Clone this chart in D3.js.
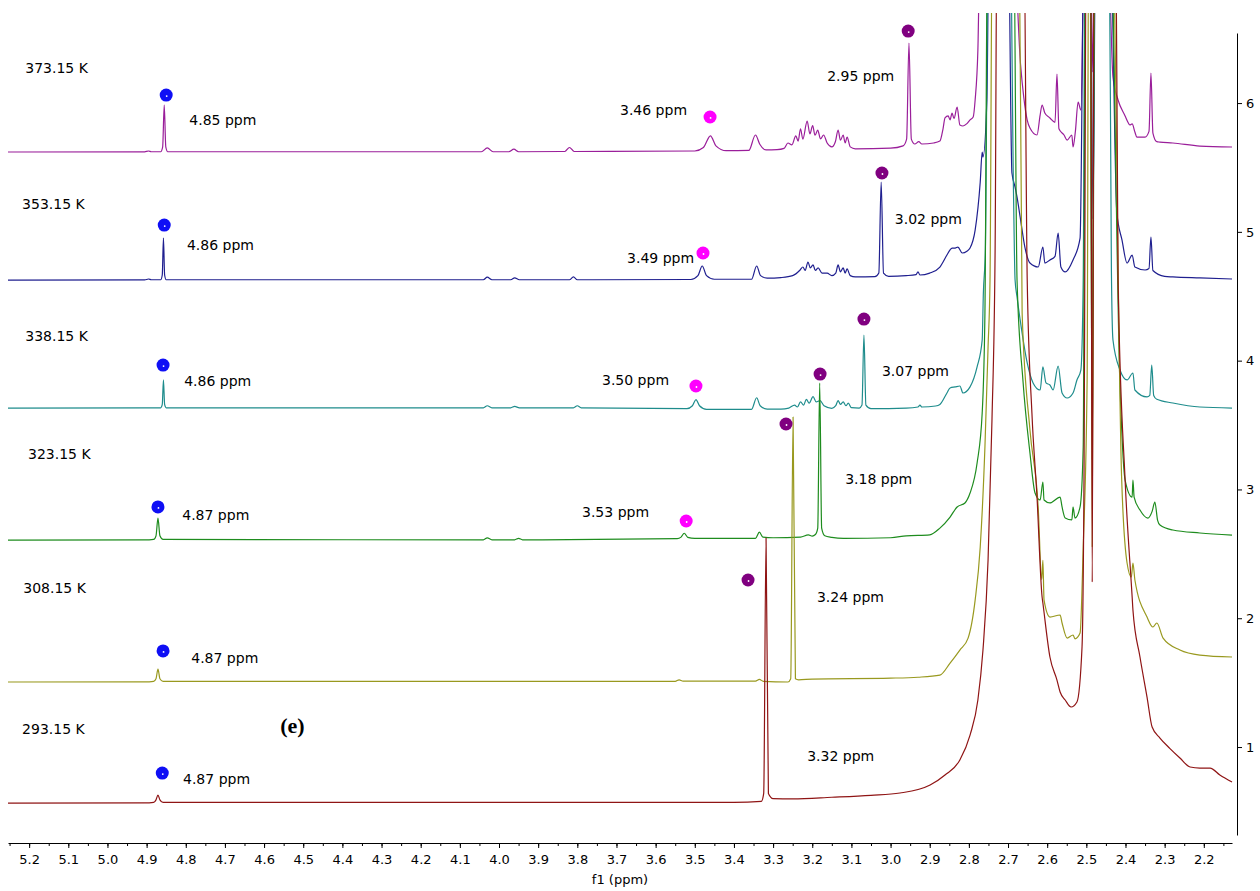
<!DOCTYPE html>
<html>
<head>
<meta charset="utf-8">
<script src="https://cdn.jsdelivr.net/npm/d3@7"></script>
<style>
  body { margin: 0; background: #fff; }
  svg { display: block; font-family: 'DejaVu Sans', Verdana, sans-serif; }
  .axis path, .axis line { stroke: #000; }
  .axis text { font-size: 13px; fill: #000; font-family: 'DejaVu Sans', Verdana, sans-serif; }
  .lbl { font-size: 14px; fill: #000; }
</style>
</head>
<body>
<div id="chart"></div>
<script>
// spectra as [ppm, intensity] (intensity in right-axis units)
var spec373 = [
  [5.254,5.620],[4.905,5.621],[4.895,5.628],[4.888,5.622],[4.864,5.622],[4.859,5.660],[4.855,5.985],[4.851,5.660],[4.846,5.622],
  [4.045,5.622],[4.030,5.652],[4.015,5.622],[3.975,5.622],[3.962,5.642],[3.950,5.622],[3.832,5.624],[3.820,5.655],[3.808,5.624],
  [3.500,5.628],[3.478,5.655],[3.460,5.745],[3.446,5.668],[3.420,5.630],
  [3.362,5.632],[3.345,5.752],[3.334,5.680],[3.318,5.636],
  [3.290,5.638],[3.272,5.648],[3.262,5.690],[3.252,5.676],[3.242,5.745],[3.236,5.705],[3.230,5.800],[3.224,5.720],[3.213,5.860],[3.206,5.760],[3.199,5.825],[3.193,5.750],[3.186,5.790],[3.179,5.722],[3.171,5.752],[3.162,5.690],[3.150,5.660],[3.141,5.700],[3.134,5.790],[3.128,5.712],[3.121,5.752],[3.116,5.690],[3.111,5.736],[3.103,5.660],[3.090,5.645],
  [3.000,5.650],[2.968,5.668],[2.959,5.720],[2.953,6.466],[2.947,5.720],[2.938,5.682],[2.928,5.700],[2.920,5.682],[2.890,5.690],[2.874,5.705],[2.866,5.800],[2.861,5.885],[2.853,5.900],[2.848,5.870],[2.843,5.923],[2.838,5.880],[2.830,5.969],[2.823,5.830],[2.815,5.822],[2.805,5.840],[2.797,5.870],[2.789,5.892],[2.784,6.024],[2.777,6.412],[2.770,7.5],
  [2.690,7.5],[2.668,6.300],[2.660,6.050],[2.651,5.868],[2.644,5.806],[2.626,5.752],[2.618,5.907],[2.613,5.985],[2.606,5.923],[2.593,5.884],[2.580,5.850],[2.575,6.225],[2.570,5.800],[2.557,5.752],[2.549,5.713],[2.537,5.752],[2.534,5.659],[2.528,5.780],[2.521,6.008],[2.514,5.946],[2.504,7.5],
  [2.490,7.5],[2.485,6.241],[2.478,7.5],
  [2.447,7.5],[2.432,6.202],[2.419,6.024],[2.401,5.900],[2.394,5.853],[2.389,5.830],[2.383,5.838],[2.376,5.775],[2.371,5.736],[2.350,5.736],[2.340,5.780],[2.335,6.233],[2.330,5.767],[2.320,5.700],[2.312,5.697],[2.279,5.690],[2.210,5.666],[2.128,5.659]
]
var spec353 = [
  [5.254,4.626],[4.905,4.627],[4.895,4.634],[4.888,4.628],[4.864,4.628],[4.860,4.665],[4.857,4.952],[4.854,4.665],[4.850,4.628],
  [4.040,4.628],[4.030,4.648],[4.018,4.628],[3.970,4.628],[3.960,4.643],[3.948,4.628],[3.820,4.628],[3.810,4.650],[3.800,4.628],
  [3.510,4.630],[3.492,4.660],[3.481,4.735],[3.470,4.660],[3.450,4.632],
  [3.355,4.632],[3.342,4.735],[3.332,4.660],[3.315,4.640],
  [3.280,4.645],[3.250,4.660],[3.231,4.704],[3.224,4.727],[3.218,4.700],[3.211,4.766],[3.205,4.720],[3.198,4.743],[3.192,4.700],[3.185,4.720],[3.175,4.680],[3.162,4.680],[3.150,4.660],[3.140,4.680],[3.134,4.743],[3.128,4.690],[3.121,4.720],[3.116,4.680],[3.111,4.712],[3.103,4.660],[3.090,4.650],
  [3.040,4.652],[3.030,4.680],[3.024,5.387],[3.018,4.680],[3.005,4.655],[2.960,4.660],[2.935,4.668],[2.930,4.690],[2.925,4.665],[2.900,4.680],[2.874,4.727],
  [2.856,4.820],[2.848,4.860],[2.843,4.874],[2.835,4.874],[2.828,4.882],[2.817,4.836],[2.805,4.850],[2.797,4.874],[2.784,5.014],[2.771,5.387],[2.766,5.620],[2.764,5.581],[2.754,6.024],[2.748,7.5],
  [2.700,7.5],[2.690,5.457],[2.682,5.348],[2.677,5.270],[2.669,5.115],[2.657,4.882],[2.644,4.758],[2.623,4.727],[2.611,4.882],[2.606,4.758],[2.593,4.782],[2.580,4.810],[2.572,4.991],[2.565,4.727],[2.554,4.689],[2.534,4.782],[2.516,4.952],[2.505,7.5],
  [2.490,7.5],[2.483,5.100],[2.476,7.5],
  [2.440,7.5],[2.422,5.146],[2.409,4.937],[2.396,4.758],[2.383,4.820],[2.376,4.727],[2.350,4.704],[2.340,4.715],[2.335,4.960],[2.330,4.700],[2.300,4.655],[2.279,4.650],[2.210,4.642],[2.128,4.634]
]
var spec338 = [
  [5.254,3.632],[4.905,3.633],[4.864,3.634],[4.860,3.660],[4.857,3.850],[4.854,3.660],[4.850,3.634],
  [4.040,3.634],[4.030,3.650],[4.018,3.634],[3.970,3.634],[3.960,3.645],[3.948,3.634],[3.810,3.634],[3.800,3.650],[3.790,3.634],
  [3.520,3.628],[3.506,3.650],[3.497,3.697],[3.488,3.650],[3.470,3.622],
  [3.355,3.622],[3.342,3.712],[3.333,3.650],[3.315,3.624],
  [3.280,3.624],[3.260,3.632],[3.245,3.655],[3.238,3.640],[3.230,3.680],[3.222,3.655],[3.215,3.700],[3.208,3.670],[3.198,3.720],[3.190,3.680],[3.180,3.690],[3.170,3.650],[3.150,3.630],[3.140,3.650],[3.134,3.690],[3.128,3.660],[3.121,3.680],[3.114,3.650],[3.108,3.670],[3.100,3.635],
  [3.080,3.632],[3.073,3.655],[3.068,4.199],[3.063,3.655],[3.050,3.628],[2.960,3.632],[2.930,3.640],[2.925,3.655],[2.920,3.640],[2.885,3.648],[2.874,3.660],
  [2.856,3.749],[2.848,3.788],[2.835,3.796],[2.823,3.803],[2.815,3.749],[2.797,3.796],[2.779,3.951],[2.766,4.160],[2.763,4.525],[2.758,4.850],[2.750,7.5],
  [2.695,7.5],[2.686,5.300],[2.682,4.626],[2.677,4.494],[2.669,4.316],[2.651,3.982],[2.636,3.827],[2.618,3.772],[2.611,3.951],[2.603,3.827],[2.593,3.811],[2.585,3.772],[2.572,3.958],[2.562,3.749],[2.549,3.710],[2.534,3.749],[2.524,3.850],[2.514,3.927],[2.508,4.626],[2.503,7.5],
  [2.491,7.5],[2.485,4.083],[2.478,7.5],
  [2.442,7.5],[2.436,4.700],[2.432,4.160],[2.414,3.927],[2.396,3.850],[2.381,3.904],[2.376,3.772],[2.345,3.718],[2.338,3.730],[2.333,3.966],[2.328,3.730],[2.320,3.700],[2.279,3.671],[2.210,3.640],[2.128,3.632]
]
var spec323 = [
  [5.254,2.607],[4.905,2.608],[4.882,2.612],[4.876,2.640],[4.871,2.778],[4.866,2.640],[4.858,2.612],
  [4.040,2.609],[4.030,2.624],[4.018,2.609],[3.960,2.609],[3.950,2.620],[3.940,2.609],
  [3.545,2.618],[3.535,2.630],[3.527,2.660],[3.518,2.628],[3.500,2.620],
  [3.345,2.620],[3.335,2.668],[3.326,2.630],[3.300,2.625],
  [3.230,2.630],[3.210,2.648],[3.200,2.638],[3.192,2.650],[3.186,2.700],[3.181,3.826],[3.176,2.700],[3.168,2.640],[3.150,2.628],[3.120,2.620],[3.000,2.625],[2.960,2.640],[2.900,2.648],[2.874,2.700],
  [2.848,2.786],[2.830,2.864],[2.810,2.895],[2.797,2.972],[2.779,3.205],[2.766,3.593],[2.759,4.370],[2.752,7.5],
  [2.686,7.5],[2.677,4.626],[2.662,3.850],[2.644,3.283],[2.631,2.972],[2.618,2.918],[2.611,3.058],[2.608,2.918],[2.593,2.895],[2.567,2.941],[2.562,2.864],[2.554,2.778],[2.537,2.763],[2.534,2.864],[2.529,2.778],[2.516,2.864],[2.508,3.330],[2.502,7.5],
  [2.491,7.5],[2.485,3.229],[2.478,7.5],
  [2.440,7.5],[2.414,3.800],[2.401,3.073],[2.383,2.941],[2.381,3.073],[2.378,2.941],[2.363,2.840],[2.343,2.778],[2.332,2.830],[2.325,2.902],[2.318,2.760],[2.312,2.724],[2.279,2.685],[2.210,2.662],[2.128,2.646]
]
var spec308 = [
  [5.254,1.505],[4.905,1.506],[4.882,1.510],[4.876,1.530],[4.871,1.606],[4.866,1.530],[4.858,1.510],
  [3.550,1.510],[3.540,1.522],[3.530,1.512],[3.345,1.512],[3.335,1.525],[3.325,1.510],[3.262,1.505],[3.255,1.530],[3.249,3.562],[3.243,1.530],[3.235,1.522],[3.200,1.528],[3.000,1.535],[2.930,1.542],
  [2.874,1.559],[2.848,1.652],[2.823,1.753],[2.802,1.846],[2.784,2.141],[2.771,2.553],[2.759,3.329],[2.751,4.106],[2.746,4.626],[2.740,7.5],
  [2.672,7.5],[2.664,4.370],[2.644,3.461],[2.623,2.864],[2.614,2.300],[2.611,2.450],[2.608,2.140],[2.593,2.009],[2.567,2.025],[2.562,1.963],[2.549,1.846],[2.534,1.870],[2.529,1.840],[2.516,1.885],[2.508,2.553],[2.498,3.850],[2.494,7.5],
  [2.489,7.5],[2.485,2.553],[2.480,7.5],
  [2.435,7.5],[2.410,3.100],[2.396,2.429],[2.385,2.320],[2.381,2.429],[2.376,2.297],[2.345,2.009],[2.330,1.932],[2.320,1.963],[2.304,1.846],[2.261,1.753],[2.210,1.714],[2.128,1.699]
]
var spec293 = [
  [5.254,0.565],[4.905,0.566],[4.882,0.570],[4.876,0.590],[4.871,0.627],[4.866,0.590],[4.858,0.570],
  [3.400,0.570],[3.330,0.578],[3.324,0.640],[3.318,2.623],[3.312,0.640],[3.300,0.600],[3.250,0.598],[3.150,0.610],[3.050,0.625],[2.976,0.643],[2.899,0.705],[2.861,0.783],[2.823,0.899],[2.797,1.093],[2.777,1.365],[2.764,1.753],[2.751,2.452],[2.741,3.539],[2.733,4.859],[2.728,7.5],
  [2.660,7.5],[2.651,4.626],[2.639,3.593],[2.626,2.941],[2.613,2.165],[2.611,2.118],[2.593,1.699],[2.575,1.520],[2.567,1.427],[2.554,1.365],[2.539,1.311],[2.524,1.350],[2.511,1.777],[2.506,3.073],[2.500,7.5],
  [2.489,7.5],[2.485,2.281],[2.480,7.5],
  [2.425,7.5],[2.419,4.626],[2.401,3.073],[2.383,2.165],[2.381,2.064],[2.363,1.699],[2.345,1.388],[2.332,1.155],[2.312,1.070],[2.287,0.990],[2.261,0.915],[2.235,0.845],[2.210,0.837],[2.184,0.837],[2.159,0.783],[2.128,0.728]
]

var temps = ['373.15 K', '353.15 K', '338.15 K', '323.15 K', '308.15 K', '293.15 K']
var spectra = [spec373, spec353, spec338, spec323, spec308, spec293]
var colors = ['#9a1e9a', '#1f1f8f', '#1e8c8c', '#1e8c1e', '#99991f', '#8f1414']

// label anchors [ppm, intensity]
var tempAt = [[5.210,6.272],[5.218,5.216],[5.210,4.191],[5.203,3.275],[5.215,2.235],[5.218,1.140]]

// assigned shifts and where their text sits
var shiftLabels = [
  ['4.85 ppm', 4.791, 5.868], ['4.86 ppm', 4.797, 4.898], ['4.86 ppm', 4.804, 3.842],
  ['4.87 ppm', 4.809, 2.801], ['4.87 ppm', 4.786, 1.691], ['4.87 ppm', 4.807, 0.752],
  ['3.46 ppm', 3.691, 5.946], ['3.49 ppm', 3.673, 4.797], ['3.50 ppm', 3.737, 3.850], ['3.53 ppm', 3.788, 2.825],
  ['2.95 ppm', 3.162, 6.210], ['3.02 ppm', 2.989, 5.100], ['3.07 ppm', 3.022, 3.920],
  ['3.18 ppm', 3.116, 3.081], ['3.24 ppm', 3.188, 2.165], ['3.32 ppm', 3.213, 0.930]
]

// peak markers
var blueDots = [[4.850,6.062],[4.855,5.053],[4.858,3.966],[4.871,2.864],[4.858,1.746],[4.860,0.798]]
var pinkDots = [[3.461,5.892],[3.479,4.836],[3.497,3.803],[3.522,2.755]]
var purpleDots = [[2.955,6.559],[3.022,5.457],[3.068,4.323],[3.180,3.896],[3.267,3.508],[3.364,2.297]]

var xTicks = d3.range(22, 53).map(function(d){ return d / 10 })
var xMinor = d3.range(43, 106).map(function(d){ return d / 20 })
var yTicks = [1, 2, 3, 4, 5, 6]

var W = 1260, H = 891

var svg = d3.select('#chart').append('svg')
  .attr('width', W).attr('height', H)

var x = d3.scaleLinear().domain([5.254, 2.128]).range([8, 1232])
var y = d3.scaleLinear().domain([0.317, 6.544]).range([835, 33])

svg.append('clipPath').attr('id', 'clip')
  .append('rect').attr('x', 8).attr('y', 13).attr('width', 1225).attr('height', 830)

var line = d3.line()
  .x(function(d){ return x(d[0]) })
  .y(function(d){ return y(d[1]) })
  .curve(d3.curveMonotoneX)

var g = svg.append('g').attr('clip-path', 'url(#clip)')
g.selectAll('path.spec').data(spectra).enter().append('path')
  .attr('class', 'spec')
  .attr('d', line)
  .attr('fill', 'none')
  .attr('stroke', function(d, i){ return colors[i] })
  .attr('stroke-width', 1.2)
  .attr('stroke-linejoin', 'round')

// x axis
var xAxisY = 843
svg.append('g').attr('class', 'axis')
  .attr('transform', 'translate(0,' + xAxisY + ')')
  .call(d3.axisBottom(x).tickValues(xMinor).tickSize(3).tickFormat('').tickSizeOuter(0))
  .select('.domain').remove()
svg.append('g').attr('class', 'axis')
  .attr('transform', 'translate(0,' + xAxisY + ')')
  .call(d3.axisBottom(x).tickValues(xTicks).tickSize(5).tickPadding(7).tickSizeOuter(0).tickFormat(d3.format('.1f')))
svg.append('text').attr('class', 'lbl')
  .attr('x', 620).attr('y', 884)
  .attr('text-anchor', 'middle')
  .style('font-size', '13px')
  .text('f1 (ppm)')

// y axis on the right
svg.append('g').attr('class', 'axis')
  .attr('transform', 'translate(1237,0)')
  .call(d3.axisRight(y).tickValues(yTicks).tickSize(5).tickPadding(4).tickSizeOuter(0).tickFormat(d3.format('d')))

// temperature labels
svg.selectAll('text.temp').data(temps).enter().append('text')
  .attr('class', 'lbl temp')
  .attr('x', function(d, i){ return x(tempAt[i][0]) })
  .attr('y', function(d, i){ return y(tempAt[i][1]) })
  .attr('dy', '0.35em')
  .text(function(d){ return d })

svg.selectAll('text.shift').data(shiftLabels).enter().append('text')
  .attr('class', 'lbl shift')
  .attr('x', function(d){ return x(d[1]) })
  .attr('y', function(d){ return y(d[2]) })
  .attr('dy', '0.35em')
  .text(function(d){ return d[0] })

svg.append('text')
  .attr('x', x(4.559)).attr('y', y(1.171))
  .attr('dy', '0.35em')
  .style('font-family', "'Liberation Serif', 'Times New Roman', serif")
  .style('font-weight', 'bold')
  .style('font-size', '22px')
  .text('(e)')

function dots(list, color){
  var sel = svg.append('g').selectAll('g').data(list).enter().append('g')
    .attr('transform', function(d){ return 'translate(' + x(d[0]) + ',' + y(d[1]) + ')' })
  sel.append('circle').attr('r', 6.5).attr('fill', color)
  sel.append('circle').attr('r', 0.9).attr('cx', 0.5).attr('cy', 1).attr('fill', '#fff')
}
dots(blueDots, '#0f0ff5')
dots(pinkDots, '#ff00ff')
dots(purpleDots, '#800080')
</script>
</body>
</html>
